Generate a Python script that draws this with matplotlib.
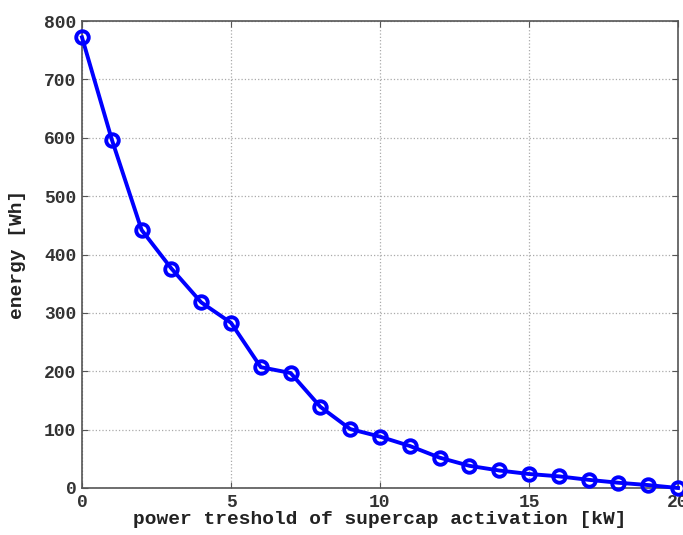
import matplotlib
matplotlib.use("Agg")
import matplotlib.pyplot as plt

power_kw = [0, 1, 2, 3, 4, 5, 6, 7, 8, 9, 10, 11, 12, 13, 14, 15, 16, 17, 18, 19, 20]
energy_wh = [772, 597, 442, 376, 318, 283, 207, 197, 139, 101, 88, 72, 52, 38, 30, 24, 20, 14, 9, 5, 0]
x_ticks = [0, 5, 10, 15, 20]
y_ticks = [0, 100, 200, 300, 400, 500, 600, 700, 800]

fig = plt.figure(figsize=(6.83, 5.35), dpi=100)
ax = fig.add_axes([82/683, 1-488/535, (678-82)/683, (488-21)/535])

ax.plot(power_kw, energy_wh, color='#0000ff', linewidth=2.8, marker='o',
        markersize=9, markerfacecolor='none', markeredgewidth=2.8, clip_on=False, zorder=3)

ax.set_xlim(0, 20)
ax.set_ylim(0, 800)
ax.set_xticks(x_ticks)
ax.set_yticks(y_ticks)
ax.grid(True, linestyle=':', color='#aaaaaa', linewidth=0.9)
ax.tick_params(direction='in', top=True, right=True, length=4, color='#555555', pad=4)
for s in ax.spines.values():
    s.set_color('#555555')
    s.set_linewidth(1.2)

font = dict(family='Liberation Mono', weight='bold', size=14)
for lab in ax.get_xticklabels() + ax.get_yticklabels():
    lab.set_fontfamily('Liberation Mono')
    lab.set_fontweight('bold')
    lab.set_fontsize(13)
    lab.set_color('#333333')
ax.set_xlabel('power treshold of supercap activation [kW]', fontdict=font, color='#222222', labelpad=0)
ax.set_ylabel('energy [Wh]', fontdict=font, color='#222222', labelpad=2)
ax.yaxis.set_label_coords(-56/596, 0.5)

fig.savefig('out.png', dpi=100)
